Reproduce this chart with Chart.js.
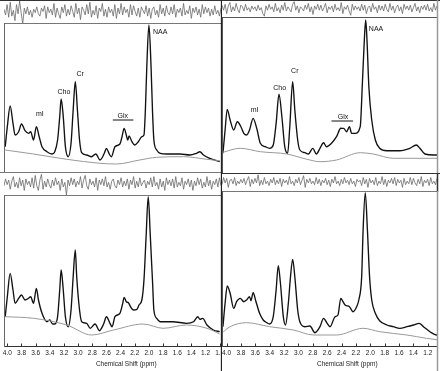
<!DOCTYPE html>
<html><head><meta charset="utf-8">
<script src="https://cdn.jsdelivr.net/npm/chart.js@4.4.1/dist/chart.umd.min.js"></script>
<style>
html,body{margin:0;padding:0;background:#fff;}
body{position:relative;width:440px;height:371px;overflow:hidden;}
canvas{position:absolute;}
</style></head><body>
<canvas id="tlRes" width="222" height="24" style="left:0;top:0"></canvas>
<canvas id="tlMain" width="222" height="150" style="left:0;top:23px"></canvas>
<canvas id="blRes" width="222" height="24" style="left:0;top:172px"></canvas>
<canvas id="blMain" width="222" height="176" style="left:0;top:195px"></canvas>
<canvas id="trRes" width="218" height="18" style="left:222px;top:0"></canvas>
<canvas id="trMain" width="218" height="157" style="left:222px;top:17px"></canvas>
<canvas id="brRes" width="218" height="19" style="left:222px;top:173px"></canvas>
<canvas id="brMain" width="218" height="180" style="left:222px;top:191px"></canvas>
<script>
// ===== DATA (ppm, intensity in arbitrary units) =====
// Top-left spectrum
const tlFitPpm = [4.03,4.00,3.96,3.92,3.89,3.84,3.80,3.75,3.70,3.67,3.63,3.59,3.55,3.51,3.44,3.37,3.33,3.29,3.26,3.24,3.21,3.18,3.14,3.10,3.07,3.04,3.01,2.98,2.95,2.88,2.81,2.75,2.69,2.63,2.60,2.56,2.53,2.48,2.41,2.38,2.35,2.32,2.30,2.28,2.24,2.20,2.15,2.10,2.07,2.05,2.03,2.00,1.97,1.95,1.93,1.89,1.84,1.75,1.56,1.42,1.33,1.28,1.23,1.14,1.00];
const tlFit = [25.3,45.3,66,48.7,37,40.3,48,41.3,38.7,40.3,32,45.3,35.3,25.3,20.3,18,20.3,32,55.3,73,55.3,25.3,15.3,28.7,62,90.3,62,32,19.3,17,15.3,18,12,18.7,23.7,18,15.3,25.3,28,35.3,43.7,37,32,36,30.3,27,30.3,35.3,37,62,105.3,147,105.3,62,32,22,18.7,18,18,17,18.7,20.3,17,13.7,10.3];
const tlBasePpm = [4.03,3.63,3.16,2.69,2.46,2.13,1.89,1.51,1.18,1.00];
const tlBase = [22,18,12.7,8.7,8,12,14.7,15.3,12.7,11.3];
const tlResid = [2,-3,6,-5,8,-4,1,-8,6,-2,9,-1,-11,3,-2,4,-3,1,-5,2,-1,4,-2,-4,3,0,5,-6,4,-1,2,-3,7,-5,3,-2,-6,4,-1,6,-4,2,-3,5,0,-5,7,-2,3,-7,4,1,-3,6,-2,8,-5,1,-3,5,-6,3,0,7,-4,2,-5,4,-1,2,-4,6,-6,3,-2,7,-3,4,-1,2,-5,6,-3,5,0,-4,3,-5,4,1,-2,5,-4,3,-6,2,4,-3,1,-5,6,-2,3,-4,5,-1,-3,4,-2,6,-5,2,-1,3,-4,7,-3,1,-2,5,-6,3,-1,4,-3,2,-5,6,-2,4,-1,3,-4,2,-3,5,-2,1,-4,3];

// Top-right spectrum
const trFitPpm = [4.05,4.02,3.99,3.95,3.90,3.85,3.80,3.76,3.72,3.68,3.63,3.58,3.53,3.46,3.40,3.35,3.31,3.27,3.23,3.19,3.15,3.12,3.08,3.05,3.01,2.98,2.91,2.86,2.80,2.75,2.70,2.65,2.61,2.54,2.47,2.41,2.37,2.33,2.29,2.26,2.21,2.14,2.11,2.083,2.064,2.046,2.02,1.98,1.93,1.87,1.77,1.59,1.45,1.36,1.31,1.24,1.12,1.04];
const trFit = [19.7,43,63.7,53,43,51.3,46.3,39.7,38,43,54.7,44.7,29.7,26.3,24.7,28,49.7,78.7,56.3,26.3,19.7,46.3,91.3,63,33,23,20.3,19,24.7,19,24.7,30.3,26.3,29.7,36.3,44.7,44.7,41.3,46.3,39.7,39.7,46.3,89.7,133,153,133,86.3,53,33,24.7,22.3,22.3,24.7,28,24.7,19,18,18];
const trBasePpm = [4.07,3.81,3.53,3.16,2.88,2.70,2.47,2.14,1.96,1.68,1.31,1.04];
const trBase = [20.3,24.7,21.3,19,13.7,11.3,13,20.3,19,14.7,14.7,14.7];
const trResid = [4,-2,5,-6,3,7,-4,2,-3,6,-1,-5,4,2,-3,5,-2,1,-4,3,-1,2,-3,4,-2,1,-6,-9,3,-2,5,-1,2,-4,6,-3,1,-5,4,-2,7,-3,2,-1,-4,5,8,-2,3,-5,2,0,-3,4,-1,6,-4,2,-7,3,-1,5,-2,4,-3,1,6,-5,2,-1,3,-4,5,-2,1,-3,7,-6,2,-1,4,-3,-8,5,-2,3,-1,2,-3,5,-2,4,-6,1,3,-4,6,-1,2,-5,4,-2,3,-3,5,-1,-4,6,-2,3,-5,1,4,-3,2,-6,5,-1,3,-2,4,-4,1,6,-3,2,-5,3,-1,4,-2,5,-3,1,-4,6,-2,3];

// Bottom-left spectrum
const blFitPpm = [4.03,4.00,3.96,3.92,3.89,3.84,3.80,3.75,3.70,3.67,3.63,3.59,3.56,3.51,3.44,3.40,3.36,3.33,3.29,3.26,3.24,3.21,3.18,3.14,3.10,3.07,3.04,3.02,2.98,2.95,2.88,2.83,2.76,2.70,2.64,2.60,2.55,2.52,2.48,2.41,2.37,2.35,2.32,2.29,2.26,2.22,2.17,2.14,2.10,2.07,2.04,2.01,1.98,1.95,1.93,1.89,1.84,1.66,1.47,1.37,1.31,1.28,1.24,1.18,1.09,1.00];
const blFit = [29.3,49.3,72.7,56,42.7,47.7,51,46,47.7,49.3,42.7,57.7,46,32.7,24.3,26,22,22,29.3,56,76,56,29.3,19.3,36,69.3,96,69.3,36,24.3,22.7,17.7,22,15.3,22,29.3,22.7,19.3,29.3,32.7,42.7,48.7,44.3,43.3,39.3,36,36.7,41,46,66,109.3,149.3,109.3,66,36,27.7,24.3,24.3,22.7,24.3,29.3,26.7,27.7,21,16,14.3];
const blBasePpm = [4.03,3.63,3.16,2.81,2.50,2.08,1.80,1.47,1.18,1.00];
const blBase = [29.3,27.7,21,11,16,22,17.7,21,17.7,12];
const blResid = [-2,4,-1,3,-5,2,6,-3,1,-4,5,-2,3,-6,4,-1,2,-3,5,-4,7,-2,-6,3,8,-5,2,-3,4,-1,-4,3,-2,5,-1,2,-6,4,-3,1,-10,3,-2,5,-1,4,-3,2,-1,6,-4,3,7,-2,-5,4,-1,2,-3,5,-6,3,-1,4,-2,6,-3,1,-5,2,4,-2,-4,3,-1,5,-3,2,-2,4,-5,3,-1,6,-4,2,-3,5,-2,1,3,-4,2,-1,5,-3,6,-2,1,-5,4,-3,2,-6,5,-1,3,-2,4,-4,6,-3,1,-2,5,-5,2,-1,4,-3,3,-6,2,-2,5,-1,4,-4,1,-3,6,-2,3,-5,2,-1,4,-3,5,-2];

// Bottom-right spectrum
const brFitPpm = [4.05,4.02,3.99,3.95,3.90,3.86,3.81,3.76,3.72,3.68,3.66,3.63,3.59,3.54,3.49,3.44,3.40,3.35,3.31,3.28,3.25,3.21,3.18,3.14,3.11,3.08,3.05,3.01,2.98,2.91,2.84,2.77,2.70,2.65,2.60,2.56,2.49,2.45,2.41,2.38,2.35,2.29,2.24,2.19,2.16,2.12,2.10,2.07,2.04,2.01,1.98,1.93,1.87,1.77,1.68,1.59,1.49,1.40,1.32,1.26,1.17,1.08,1.04];
const brFit = [19.3,42.7,60,52.7,37.7,44.3,47.7,44.3,46,49.3,45.3,53.3,44.3,32.7,26,23.3,22,29.3,56,80.3,62.7,29.3,21,42.7,69.3,86.7,69.3,36,24.3,19.3,20,13.3,19.3,27.7,22.7,19.3,29.3,31,47.7,44.3,41,39.3,34.3,39.3,46,69.3,116,153.3,116,69.3,46,32.7,25.3,21,19.3,17.7,19.3,21,22.7,19.3,14.3,11,11];
const brBasePpm = [4.07,3.95,3.72,3.40,3.07,2.79,2.47,2.10,1.87,1.49,1.22,1.04];
const brBase = [12.7,19.3,23.3,19.3,16,11,11,17.7,14.3,11,7.7,6];
const brResid = [-3,5,-1,4,-6,2,3,-2,5,-4,1,-2,3,-1,4,-3,2,6,-5,3,-2,4,-1,8,-4,2,-3,5,-2,1,-4,3,-1,5,-3,2,-2,4,-5,3,-1,2,-3,6,-2,1,-4,3,-1,5,-3,2,7,-6,3,-1,4,-2,1,-3,5,-2,3,-4,2,-1,4,-3,2,-5,3,-1,6,-2,1,-4,3,-2,5,-1,2,-3,4,-2,1,-5,3,0,2,-4,5,-2,3,-6,4,-1,2,-3,5,-4,1,-2,6,-3,3,-5,2,-1,4,-2,5,-4,3,-1,2,-6,4,-3,1,-2,5,-3,4,-1,-4,3,-2,6,-5,2,-1,3,-4,5,-2,1,-3,4];

// Peak labels
const peakNames = ['NAA','Cr','Cho','mI','Glx'];
const tlLabelPpm = [1.84,2.97,3.20,3.54,2.37];
const tlLabelVal = [140,98,80,58,56];
const trLabelPpm = [1.92,3.05,3.26,3.61,2.38];
const trLabelVal = [144,102,84.7,63,56.3];
const tlGlxBar = [2.51,2.22,52];
const trGlxBar = [2.54,2.24,52];

// x-axis
const xTickStep = 0.2;
const xTitle = 'Chemical Shift (ppm)';
const leftRange = [0.982, 4.047];
const rightRange = [1.072, 4.063];

// ===== RENDERING =====
const FONT = 'Liberation Sans, Arial, sans-serif';
const framePlugin = {
  id: 'frame',
  afterDatasetsDraw(chart, args, o) {
    const ctx = chart.ctx, a = chart.chartArea;
    const xs = chart.scales.x, ys = chart.scales.y;
    const line = (x1,y1,x2,y2,c,w) => { ctx.beginPath(); ctx.strokeStyle=c; ctx.lineWidth=w; ctx.moveTo(x1,y1); ctx.lineTo(x2,y2); ctx.stroke(); };
    ctx.save();
    const s = o.sides || {};
    if (s.top) line(0, a.top+0.5, chart.width, a.top+0.5, s.top, 1);
    if (s.bottom) line(a.left, a.bottom+0.5, a.right, a.bottom+0.5, s.bottom, 1);
    if (s.left) line(a.left+0.5, a.top, a.left+0.5, a.bottom+1, s.left, 1);
    if (s.right) line(a.right+0.5, 0, a.right+0.5, chart.height, s.right, s.rightW || 1);
    if (o.labels) {
      ctx.fillStyle = '#111';
      ctx.font = '7px ' + FONT;
      ctx.textAlign = 'center'; ctx.textBaseline = 'middle';
      o.labels.names.forEach((n,i) => ctx.fillText(n, xs.getPixelForValue(o.labels.ppm[i]), ys.getPixelForValue(o.labels.val[i])));
      const b = o.labels.bar;
      line(xs.getPixelForValue(b[0]), ys.getPixelForValue(b[2]), xs.getPixelForValue(b[1]), ys.getPixelForValue(b[2]), '#111', 1);
    }
    if (o.axis) {
      xs.ticks.forEach(t => { const px = Math.round(xs.getPixelForValue(t.value))+0.5; line(px, a.bottom, px, a.bottom-2.5, '#333', 1); });
      ctx.fillStyle = '#222';
      ctx.font = '6.5px ' + FONT;
      ctx.textAlign = 'center'; ctx.textBaseline = 'middle';
      ctx.fillText(xTitle, xs.getPixelForValue(2.32), a.bottom + 18.5);
    }
    ctx.restore();
  }
};

function residSeries(vals, range) {
  const n = vals.length, step = (range[1]-range[0])/(n-1);
  return { ppm: vals.map((v,i)=> range[1]-i*step), val: vals, color:'#6a6a6a', width:0.8, smooth:false };
}

function makeChart(id, cfg) {
  const datasets = cfg.series.map(s => ({
    data: s.ppm.map((p,i)=>({x:p, y:s.val[i]})),
    borderColor: s.color, borderWidth: s.width, pointRadius: 0, fill: false,
    cubicInterpolationMode: s.smooth ? 'monotone' : 'default', tension: 0
  }));
  const xOpts = {
    type: 'linear', reverse: true, min: cfg.range[0], max: cfg.range[1], display: !!cfg.axis,
    border: {display: true, color: '#333', width: 1},
    grid: {display: true, drawOnChartArea: false, drawTicks: false},
    ticks: {stepSize: xTickStep, includeBounds: false, autoSkip: false, maxRotation: 0, minRotation: 0,
      padding: 3, color: '#222', font: {size: 6.5, family: FONT}, callback: v => v.toFixed(1)},
    afterFit(sc) { if (cfg.axis) sc.height = 25; sc.paddingLeft = 0; sc.paddingRight = 0; }
  };
  return new Chart(document.getElementById(id), {
    type: 'line',
    data: {datasets},
    options: {
      responsive: false, animation: false, events: [],
      layout: {padding: cfg.pad},
      plugins: {legend: {display: false}, tooltip: {enabled: false},
        frame: {sides: cfg.sides, labels: cfg.labels, axis: cfg.axis}},
      scales: {x: xOpts, y: {display: false, min: cfg.y[0], max: cfg.y[1]}}
    },
    plugins: [framePlugin]
  });
}

const fitS = (p,v) => ({ppm:p, val:v, color:'#111', width:1.35, smooth:true});
const baseS = (p,v) => ({ppm:p, val:v, color:'#999', width:1, smooth:true});
const padL = {left:4, right:1, top:0, bottom:1};
const padR = {left:0, right:3, top:0, bottom:1};
const DIV = '#222';
const RES_Y = [-10,10];

makeChart('tlRes', {range:leftRange, y:RES_Y, pad:padL, series:[residSeries(tlResid, leftRange)],
  sides:{top:'#333', bottom:'#777', right:DIV, rightW:1.3}});
makeChart('tlMain', {range:leftRange, y:[0,149], pad:padL, series:[baseS(tlBasePpm,tlBase), fitS(tlFitPpm,tlFit)],
  sides:{left:'#666', bottom:'#777', right:DIV, rightW:1.3},
  labels:{names:peakNames, ppm:tlLabelPpm, val:tlLabelVal, bar:tlGlxBar}});
makeChart('blRes', {range:leftRange, y:RES_Y, pad:padL, series:[residSeries(blResid, leftRange)],
  sides:{top:'#777', bottom:'#777', right:DIV, rightW:1.3}});
makeChart('blMain', {range:leftRange, y:[0,151], pad:{left:4,right:1,top:0,bottom:0}, axis:true,
  series:[baseS(blBasePpm,blBase), fitS(blFitPpm,blFit)],
  sides:{left:'#666', right:DIV, rightW:1.3}});

makeChart('trRes', {range:rightRange, y:RES_Y, pad:padR, series:[residSeries(trResid, rightRange)],
  sides:{top:'#333', bottom:'#555', right:'#999', rightW:1.5}});
makeChart('trMain', {range:rightRange, y:[0,156], pad:padR, series:[baseS(trBasePpm,trBase), fitS(trFitPpm,trFit)],
  sides:{left:'#555', right:'#999', rightW:1.5},
  labels:{names:peakNames, ppm:trLabelPpm, val:trLabelVal, bar:trGlxBar}});
makeChart('brRes', {range:rightRange, y:RES_Y, pad:padR, series:[residSeries(brResid, rightRange)],
  sides:{top:'#333', bottom:'#777', right:'#333', rightW:1.5}});
makeChart('brMain', {range:rightRange, y:[0,155], pad:{left:0,right:3,top:0,bottom:0}, axis:true,
  series:[baseS(brBasePpm,brBase), fitS(brFitPpm,brFit)],
  sides:{left:'#555', right:'#999', rightW:1.5}});
</script>
</body></html>
